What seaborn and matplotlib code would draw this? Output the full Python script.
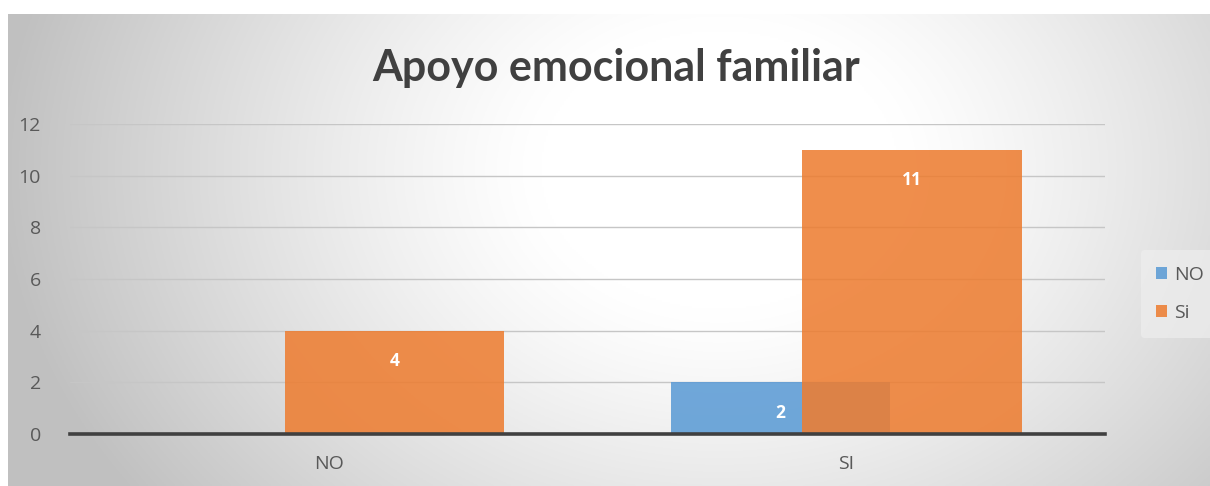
import numpy as np
import pandas as pd
import matplotlib
matplotlib.use("Agg")
import matplotlib.pyplot as plt
import seaborn as sns

# ---- data ----
categories = ["NO", "SI"]
series_names = ["NO", "Si"]
values_no = [0, 2]
values_si = [4, 11]
yticks = [0, 2, 4, 6, 8, 10, 12]
title = "Apoyo emocional familiar"

colors = ["#5B9BD5", "#ED7D31"]

df = pd.DataFrame({
    "cat": categories * 2,
    "serie": [series_names[0]] * 2 + [series_names[1]] * 2,
    "val": values_no + values_si,
})

sns.set_theme(style="white")
plt.rcParams["font.family"] = ["Open Sans", "DejaVu Sans"]

W, H = 1210, 486
fig = plt.figure(figsize=(W / 100, H / 100), dpi=100)
fig.patch.set_facecolor("white")

# background radial gradient (chart area)
x0, ytop = 8, 14
bg = fig.add_axes([x0 / W, 0, 1 - x0 / W, (H - ytop) / H], zorder=0)
xs = np.linspace(x0, W, 600)
ys = np.linspace(ytop, H, 240)
X, Y = np.meshgrid(xs, ys)
cx, cy, rx, ry = 720, 170, 720, 560
r = np.sqrt(((X - cx) / rx) ** 2 + ((Y - cy) / ry) ** 2)
t = np.clip((r - 0.25) / 0.75, 0, 1) ** 1.2
g = 1.0 - 0.245 * t
img = np.dstack([g, g, g])
bg.imshow(img, aspect="auto", extent=[0, 1, 0, 1], origin="upper")
bg.set_axis_off()

ax = fig.add_axes([70 / W, (H - 434) / H, (1105 - 70) / W, (434 - 124) / H], zorder=1)
ax.set_facecolor("none")

sns.barplot(data=df, x="cat", y="val", hue="serie", order=categories,
            hue_order=series_names, palette=colors, width=0.507, gap=-0.672,
            saturation=1, alpha=0.87, linewidth=0, ax=ax, legend=True, zorder=2)

ax.set_xlim(-0.5, 1.5)
ax.set_ylim(0, 12)
ax.set_yticks(yticks)
ax.set_yticklabels([str(v) for v in yticks])
ax.yaxis.grid(True, color="#c6c6c6", linewidth=1.0, zorder=0)
ax.set_axisbelow(True)
for s in ["top", "right", "left"]:
    ax.spines[s].set_visible(False)
ax.spines["bottom"].set_color("#404040")
ax.spines["bottom"].set_linewidth(2.6)
ax.spines["bottom"].set_zorder(5)
ax.tick_params(axis="y", length=0, pad=21, labelsize=14, labelcolor="#595959")
ax.tick_params(axis="x", length=0, pad=15, labelsize=14, labelcolor="#595959")
ax.set_xlabel("")
ax.set_ylabel("")

# data labels
for cont in ax.containers:
    for bar in cont:
        h = bar.get_height()
        if h and h > 0:
            ax.annotate(f"{h:g}", (bar.get_x() + bar.get_width() / 2, h),
                        xytext=(0, -22), textcoords="offset points",
                        ha="center", va="center", color="white",
                        fontsize=12.5, fontweight="bold", zorder=6)

# legend
handles, labels = ax.get_legend_handles_labels()
ax.get_legend().remove()
leg = fig.legend(handles, labels, loc="center left",
                 bbox_to_anchor=(1131 / W, 1 - 294 / H),
                 frameon=True, fontsize=14, handlelength=0.55, handleheight=0.55,
                 handletextpad=0.35, labelspacing=1.05, borderpad=0.8,
                 labelcolor="#595959")
leg.get_frame().set_facecolor("#eeeeee")
leg.get_frame().set_edgecolor("none")
leg.get_frame().set_alpha(0.7)

fig.text(616 / W, 1 - 68 / H, title, ha="center", va="center",
         fontsize=31, fontweight="bold", color="#404040",
         family=["Lato", "DejaVu Sans"])

fig.savefig("out.png", dpi=100)
